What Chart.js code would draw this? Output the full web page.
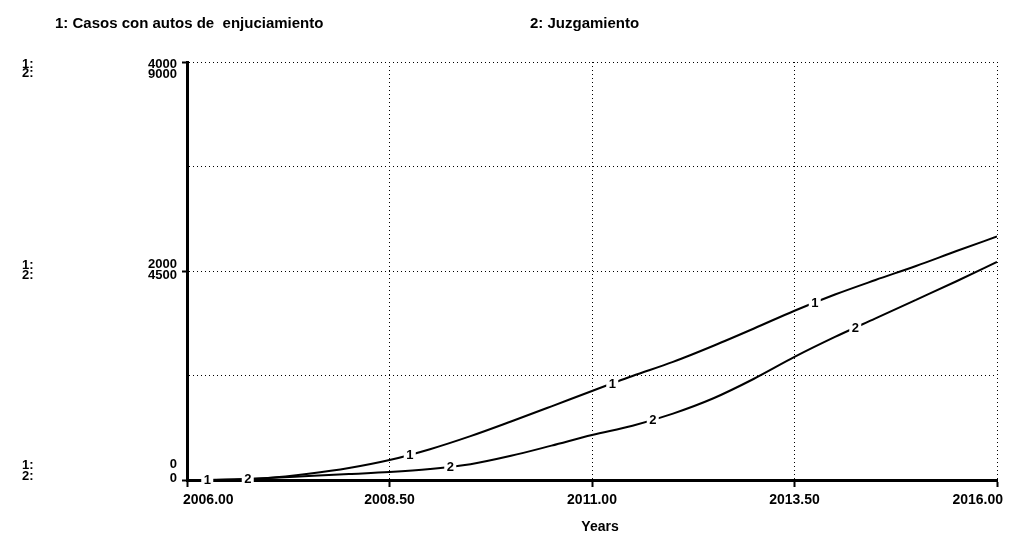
<!DOCTYPE html>
<html>
<head>
<meta charset="utf-8">
<script src="https://cdn.jsdelivr.net/npm/chart.js@4"></script>
<style>
  body { margin: 0; background: #fff; }
  #wrap { width: 1016px; height: 536px; }
</style>
</head>
<body>
<div id="wrap"><canvas id="simChart" width="1016" height="536"></canvas></div>
<script>
// Simulation output (half-year steps)
const years = [2006, 2006.5, 2007, 2007.5, 2008, 2008.5, 2009, 2009.5, 2010, 2010.5, 2011,
               2011.5, 2012, 2012.5, 2013, 2013.5, 2014, 2014.5, 2015, 2015.5, 2016];
const casosAutos = [0, 3, 19, 60, 115, 191, 295, 420, 560, 705, 852,
                    995, 1130, 1285, 1450, 1620, 1775, 1914, 2048, 2191, 2330];
const juzgamiento = [0, 10, 43, 86, 129, 172, 237, 340, 520, 740, 969,
                     1170, 1430, 1760, 2180, 2650, 3080, 3480, 3880, 4280, 4694];

const seriesNames = ['1: Casos con autos de  enjuciamiento', '2: Juzgamiento'];
const xTicks = [2006, 2008.5, 2011, 2013.5, 2016];
const yTicks1 = [0, 2000, 4000];
const yTicks2 = [0, 4500, 9000];
// where the little "1" / "2" markers sit on each curve
const markYears1 = [2006.25, 2008.75, 2011.25, 2013.75];
const markYears2 = [2006.75, 2009.25, 2011.75, 2014.25];

const FONT = '"Liberation Sans", Arial, sans-serif';

function valueAt(xs, ys, x) {
    for (let i = 1; i < xs.length; i++) {
        if (x <= xs[i]) {
            const t = (x - xs[i - 1]) / (xs[i] - xs[i - 1]);
            return ys[i - 1] + t * (ys[i] - ys[i - 1]);
        }
    }
    return ys[ys.length - 1];
}

// STELLA style texts: header, stacked axis labels, curve numbers
const stellaText = {
    id: 'stellaText',
    afterDatasetsDraw(chart) {
        const ctx = chart.ctx;
        const area = chart.chartArea;
        const xs = chart.scales.x, y1 = chart.scales.y, y2 = chart.scales.y2;
        ctx.save();
        ctx.fillStyle = '#000';
        ctx.textBaseline = 'middle';

        // curve numbers with a white gap in the line
        ctx.font = 'bold 13px ' + FONT;
        ctx.textAlign = 'center';
        const marks = [[markYears1, casosAutos, y1, '1'], [markYears2, juzgamiento, y2, '2']];
        marks.forEach(([mys, vals, sc, txt]) => {
            mys.forEach(yr => {
                const px = xs.getPixelForValue(yr);
                const py = sc.getPixelForValue(valueAt(years, vals, yr));
                ctx.fillStyle = '#fff';
                ctx.fillRect(px - 6, py - 6, 12, 12);
                ctx.fillStyle = '#000';
                ctx.fillText(txt, px, py + 1);
            });
        });

        // header
        ctx.font = 'bold 15px ' + FONT;
        ctx.textAlign = 'left';
        ctx.fillText(seriesNames[0], 55, 24);
        ctx.fillText(seriesNames[1], 530, 24);

        // stacked y labels for both scales
        ctx.font = 'bold 13px ' + FONT;
        const offs = [[-16, -2], [-7, 4], [2, 12]];
        const sideOffs = [[-15, -4], [-6, 4], [2, 11]];
        yTicks1.forEach((v, i) => {
            const py = y1.getPixelForValue(v);
            ctx.textAlign = 'right';
            ctx.fillText(String(v), 177, py + offs[i][0]);
            ctx.fillText(String(yTicks2[i]), 177, py + offs[i][1]);
            ctx.textAlign = 'left';
            ctx.fillText('1:', 22, py + sideOffs[i][0]);
            ctx.fillText('2:', 22, py + sideOffs[i][1]);
        });

        // x tick labels, first and last kept inside the frame
        ctx.font = 'bold 14px ' + FONT;
        xTicks.forEach((v, i) => {
            const px = xs.getPixelForValue(v);
            let ax = px;
            if (i === 0) { ctx.textAlign = 'left'; ax = px - 4; }
            else if (i === xTicks.length - 1) { ctx.textAlign = 'right'; ax = px + 6; }
            else ctx.textAlign = 'center';
            ctx.fillText(v.toFixed(2), ax, area.bottom + 20);
        });

        ctx.textAlign = 'center';
        ctx.fillText('Years', (area.left + area.right) / 2 + 8, area.bottom + 47);
        ctx.restore();
    }
};

const ctx = document.getElementById('simChart').getContext('2d');
const simChart = new Chart(ctx, {
    type: 'line',
    data: {
        datasets: [{
            label: seriesNames[0],
            data: years.map((x, i) => ({ x: x, y: casosAutos[i] })),
            yAxisID: 'y',
            borderColor: '#000',
            borderWidth: 2,
            pointRadius: 0,
            cubicInterpolationMode: 'monotone'
        }, {
            label: seriesNames[1],
            data: years.map((x, i) => ({ x: x, y: juzgamiento[i] })),
            yAxisID: 'y2',
            borderColor: '#000',
            borderWidth: 2,
            pointRadius: 0,
            cubicInterpolationMode: 'monotone'
        }]
    },
    options: {
        responsive: false,
        animation: false,
        layout: { padding: { top: 62, right: 19, left: 0, bottom: 0 } },
        plugins: {
            legend: { display: false },
            tooltip: { enabled: false }
        },
        scales: {
            x: {
                type: 'linear',
                min: 2006,
                max: 2016,
                afterBuildTicks: s => { s.ticks = xTicks.map(v => ({ value: v })); },
                afterFit: s => { s.height = 56; },
                ticks: { display: false },
                grid: { color: '#000', lineWidth: 1, tickLength: 7, tickColor: '#000', tickWidth: 2 },
                border: { color: '#000', width: 3, dash: [1, 3] }
            },
            y: {
                min: 0,
                max: 4000,
                ticks: { display: false, stepSize: 1000 },
                afterFit: s => { s.width = 187; },
                grid: {
                    color: '#000',
                    lineWidth: 1,
                    tickLength: 5,
                    tickWidth: 2,
                    tickColor: c => (c.tick && c.tick.value % 2000 === 0) ? '#000' : 'rgba(0,0,0,0)'
                },
                border: { color: '#000', width: 3, dash: [1, 3] }
            },
            y2: {
                display: false,
                min: 0,
                max: 9000
            }
        }
    },
    plugins: [stellaText]
});
</script>
</body>
</html>
